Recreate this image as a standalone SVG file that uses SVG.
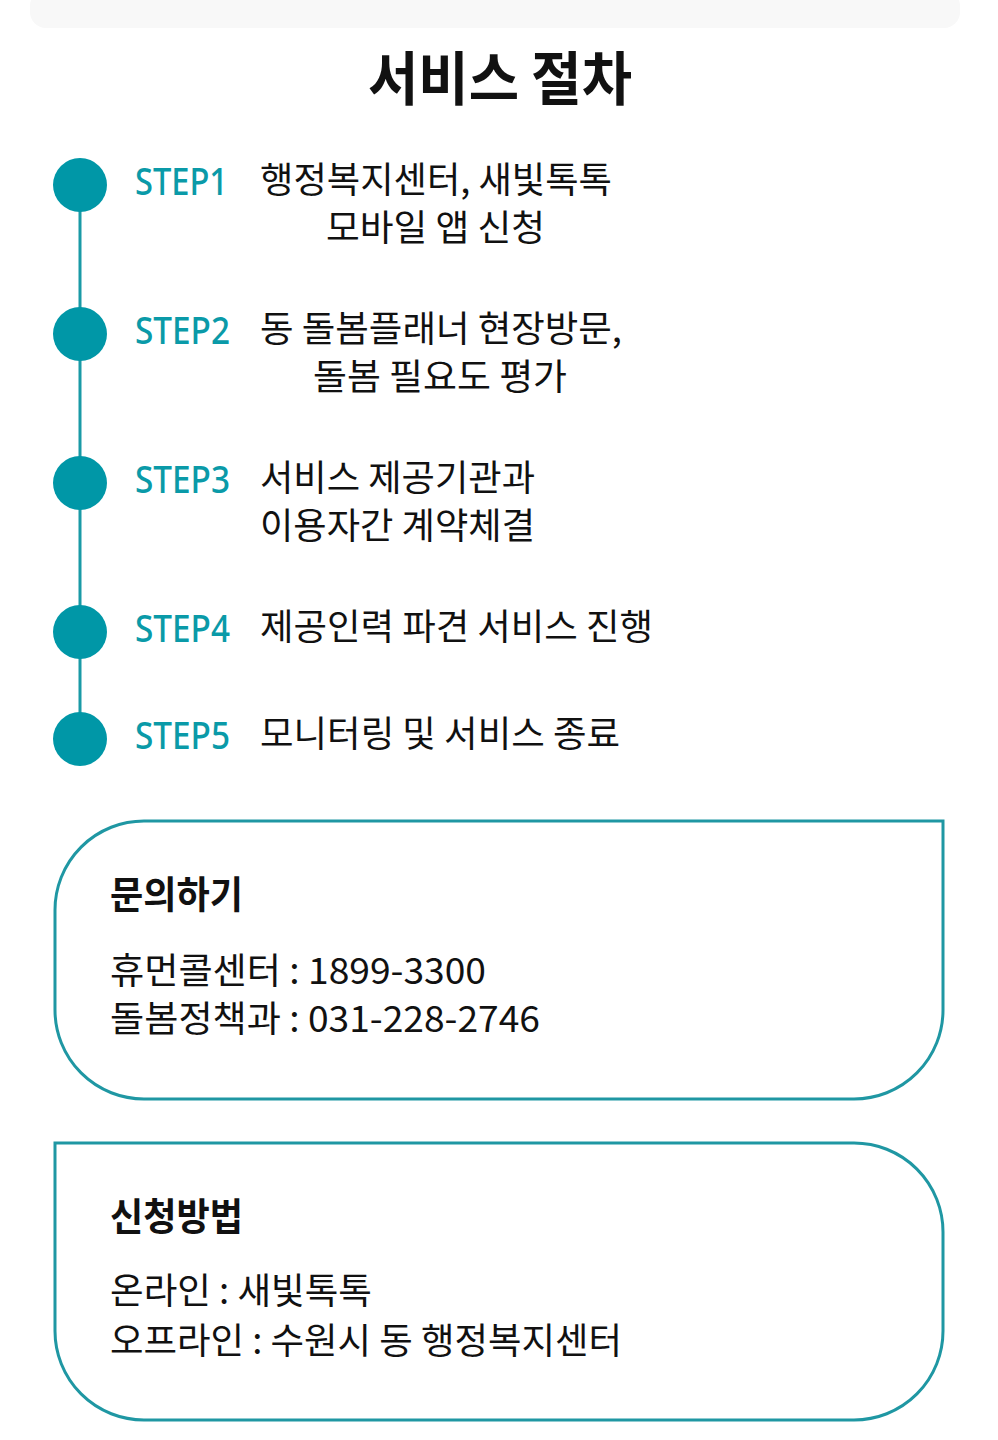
<svg xmlns="http://www.w3.org/2000/svg" width="998" height="1440" viewBox="0 0 998 1440">
<style>
text{font-family:"Noto Sans CJK KR","Noto Sans",sans-serif;fill:#111}
.t{font-size:38px;font-weight:700}
.s{font-size:38px;fill:#0a9aa8;font-family:"Noto Sans","Noto Sans CJK KR",sans-serif;font-weight:500}
.b{font-size:36px}
.box{fill:none;stroke:#1f97a3;stroke-width:3}
.dot{fill:#0097a7}
</style>
<rect x="30" y="-10" width="930" height="38" rx="16" fill="#f8f8f8"/>
<text x="500" y="100" text-anchor="middle" style="font-size:58px;font-weight:700" textLength="264" lengthAdjust="spacingAndGlyphs">서비스 절차</text>
<g id="connectors"><line x1="80" y1="185" x2="80" y2="739" stroke="#1a9aa6" stroke-width="3"/></g>
<g id="step1"><circle class="dot" cx="80" cy="185" r="27"/>
<text class="s" x="135" y="195" textLength="93" lengthAdjust="spacingAndGlyphs">STEP1</text>
<text class="b" x="260" y="193" textLength="352" lengthAdjust="spacingAndGlyphs">행정복지센터, 새빛톡톡</text>
<text class="b" x="326" y="241" textLength="219" lengthAdjust="spacingAndGlyphs">모바일 앱 신청</text></g>
<g id="step2"><circle class="dot" cx="80" cy="334" r="27"/>
<text class="s" x="135" y="344" textLength="95" lengthAdjust="spacingAndGlyphs">STEP2</text>
<text class="b" x="260" y="342" textLength="362" lengthAdjust="spacingAndGlyphs">동 돌봄플래너 현장방문,</text>
<text class="b" x="313" y="390" textLength="254" lengthAdjust="spacingAndGlyphs">돌봄 필요도 평가</text></g>
<g id="step3"><circle class="dot" cx="80" cy="483" r="27"/>
<text class="s" x="135" y="493" textLength="95" lengthAdjust="spacingAndGlyphs">STEP3</text>
<text class="b" x="260" y="491" textLength="275" lengthAdjust="spacingAndGlyphs">서비스 제공기관과</text>
<text class="b" x="260" y="539" textLength="275" lengthAdjust="spacingAndGlyphs">이용자간 계약체결</text></g>
<g id="step4"><circle class="dot" cx="80" cy="632" r="27"/>
<text class="s" x="135" y="642" textLength="95" lengthAdjust="spacingAndGlyphs">STEP4</text>
<text class="b" x="260" y="640" textLength="393" lengthAdjust="spacingAndGlyphs">제공인력 파견 서비스 진행</text></g>
<g id="step5"><circle class="dot" cx="80" cy="739" r="27"/>
<text class="s" x="135" y="749" textLength="95" lengthAdjust="spacingAndGlyphs">STEP5</text>
<text class="b" x="260" y="747" textLength="360" lengthAdjust="spacingAndGlyphs">모니터링 및 서비스 종료</text></g>
<g id="inquiry">
<path class="box" d="M144 821 H943 V1010 A89 89 0 0 1 854 1099 H144 A89 89 0 0 1 55 1010 V910 A89 89 0 0 1 144 821 Z"/>
<text class="t" x="110" y="908" textLength="133" lengthAdjust="spacingAndGlyphs">문의하기</text>
<text class="b" x="110" y="984" textLength="376" lengthAdjust="spacingAndGlyphs">휴먼콜센터 : 1899-3300</text>
<text class="b" x="110" y="1032" textLength="430" lengthAdjust="spacingAndGlyphs">돌봄정책과 : 031-228-2746</text></g>
<g id="apply">
<path class="box" d="M55 1143 H854 A89 89 0 0 1 943 1232 V1331 A89 89 0 0 1 854 1420 H144 A89 89 0 0 1 55 1331 Z"/>
<text class="t" x="110" y="1230" textLength="133" lengthAdjust="spacingAndGlyphs">신청방법</text>
<text class="b" x="110" y="1304" textLength="262" lengthAdjust="spacingAndGlyphs">온라인 : 새빛톡톡</text>
<text class="b" x="110" y="1354" textLength="512" lengthAdjust="spacingAndGlyphs">오프라인 : 수원시 동 행정복지센터</text></g>
</svg>
